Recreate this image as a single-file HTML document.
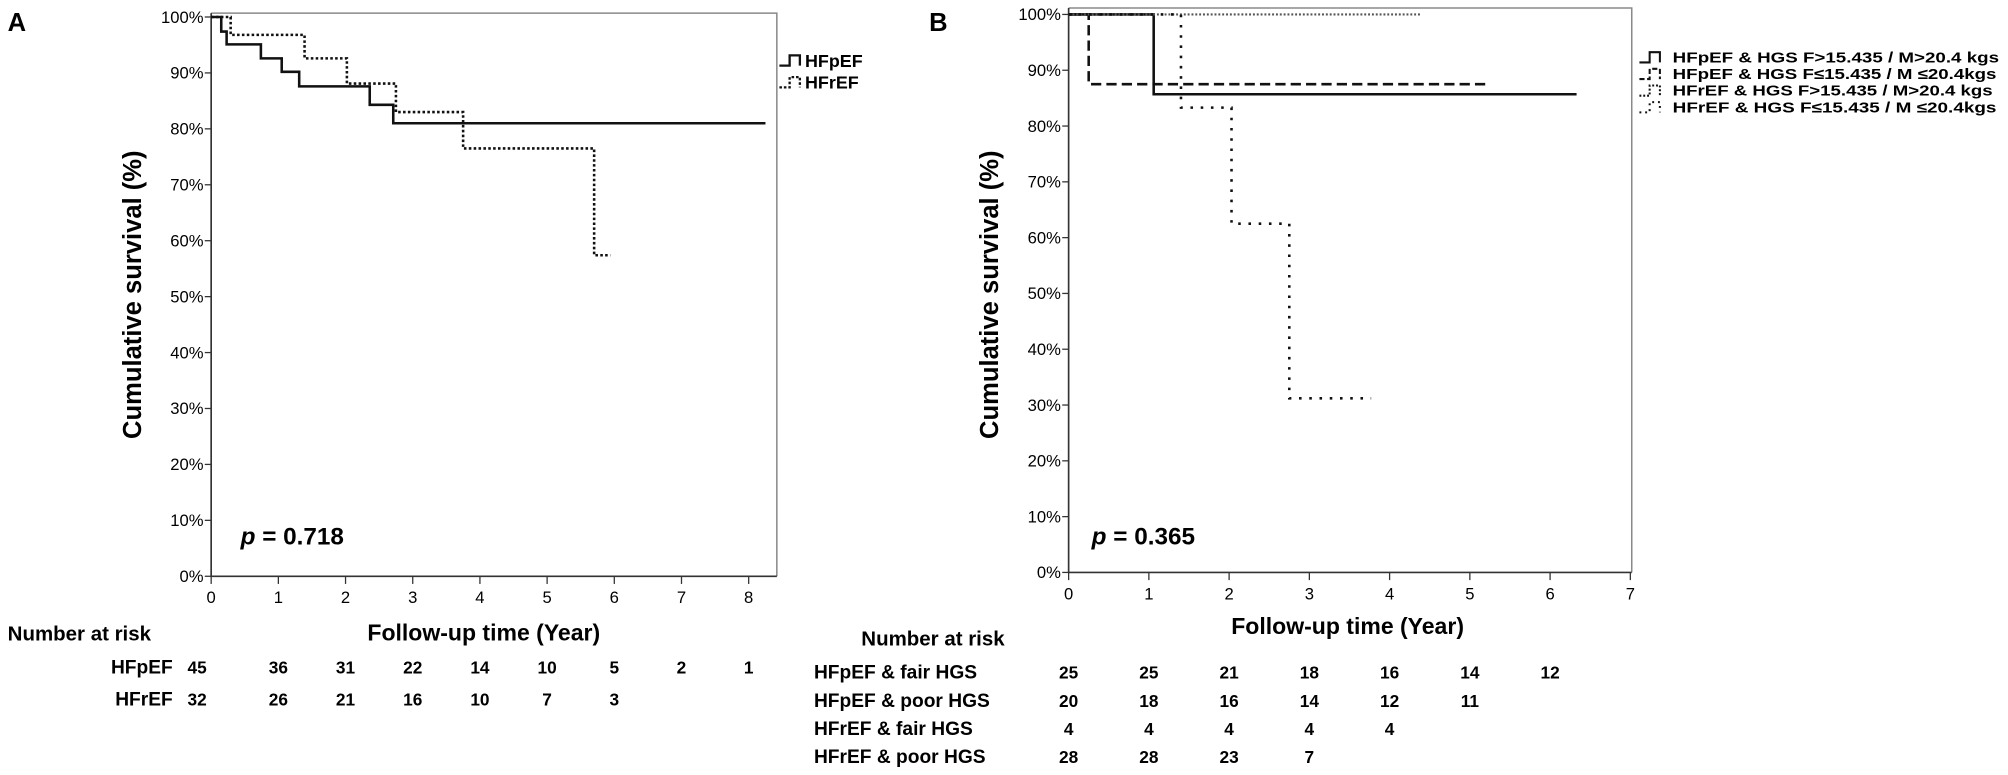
<!DOCTYPE html>
<html><head><meta charset="utf-8"><style>
html,body{margin:0;padding:0;background:#fff;}
svg{display:block;font-family:"Liberation Sans",Arial,sans-serif;}
</style></head><body>
<svg id="fig" width="2008" height="775" viewBox="0 0 1569 605" xmlns="http://www.w3.org/2000/svg">
<g id="pa"></g>
<g id="pb"></g>
</svg>
<script>
// ---- Panel A data ----
const aYTicks = [0,10,20,30,40,50,60,70,80,90,100];
const aXTicks = [0,1,2,3,4,5,6,7,8];
const aPefTimes = [0.15,0.23,0.74,1.05,1.31,2.36,2.71];
const aPefSurv  = [97.4,95.1,92.6,90.2,87.6,84.3,81.0];
const aPefEnd = 8.25;
const aRefTimes = [0.29,1.39,2.02,2.75,3.75,5.70];
const aRefSurv  = [96.8,92.6,88.1,83.0,76.5,57.4];
const aRefEnd = 5.94;
const aRiskPef = [45,36,31,22,14,10,5,2,1];
const aRiskRef = [32,26,21,16,10,7,3];
// ---- Panel B data ----
const bYTicks = [0,10,20,30,40,50,60,70,80,90,100];
const bXTicks = [0,1,2,3,4,5,6,7];
const bPefFairTimes = [1.06];
const bPefFairSurv  = [85.7];
const bPefFairEnd = 6.33;
const bPefPoorTimes = [0.25];
const bPefPoorSurv  = [87.5];
const bPefPoorEnd = 5.2;
const bRefFairTimes = [];
const bRefFairSurv  = [];
const bRefFairEnd = 4.4;
const bRefPoorTimes = [1.40,2.03,2.75];
const bRefPoorSurv  = [83.3,62.5,31.2];
const bRefPoorEnd = 3.77;
const bRiskPefFair = [25,25,21,18,16,14,12];
const bRiskPefPoor = [20,18,16,14,12,11];
const bRiskRefFair = [4,4,4,4,4];
const bRiskRefPoor = [28,28,23,7];

const NS="http://www.w3.org/2000/svg";
function mk(parent,tag,attrs,text){const e=document.createElementNS(NS,tag);for(const k in attrs)e.setAttribute(k,attrs[k]);if(text!==undefined)e.textContent=text;parent.appendChild(e);return e;}
function stepPath(times,surv,end,xs,ys){let d=`M${xs(0)},${ys(100)}`;for(let i=0;i<times.length;i++){d+=` H${xs(times[i])} V${ys(surv[i])}`;}d+=` H${xs(end)}`;return d;}

function panel(g,cfg){
  const xs=t=>cfg.x0+t*cfg.px;
  const ys=v=>cfg.y0-v*cfg.py;
  const f1=mk(g,'path',{d:`M${cfg.x0},${cfg.top} H${cfg.right} V${cfg.y0}`,fill:'none',stroke:'#8a8a8a','stroke-width':1.2});
  
  
  const ax=mk(g,'path',{d:`M${cfg.x0},${cfg.top} V${cfg.y0} H${cfg.right}`,fill:'none',stroke:'#333','stroke-width':1.3});
  
  
  cfg.yTicks.forEach(v=>{
    const tk=mk(g,'line',{x1:cfg.x0-5,x2:cfg.x0,y1:ys(v),y2:ys(v),stroke:'#333','stroke-width':1});
    
    
    const tl=mk(g,'text',{x:cfg.x0-6,y:ys(v)+4.5,'text-anchor':'end','font-size':13},v+'%');
    
    
  });
  cfg.xTicks.forEach(v=>{
    const tk=mk(g,'line',{x1:xs(v),x2:xs(v),y1:cfg.y0,y2:cfg.y0+6,stroke:'#333','stroke-width':1});
    
    
    const tl=mk(g,'text',{x:xs(v),y:cfg.y0+21,'text-anchor':'middle','font-size':13},v);
    
    
  });
  cfg.series.forEach(s=>{
    const p=mk(g,'path',{d:stepPath(s.t,s.s,s.end,xs,ys),fill:'none',stroke:s.color||'#111','stroke-width':s.w||2,'stroke-dasharray':s.dash||'none'});
    
    
  });
  return {xs,ys};
}

// Panel A
const ga=document.getElementById('pa');
const A=panel(ga,{x0:165,y0:450,top:10,right:607,px:52.5,py:4.37,yTicks:aYTicks,xTicks:aXTicks,
 series:[{name:'hfpef-curve',t:aPefTimes,s:aPefSurv,end:aPefEnd,w:2},
         {name:'hfref-curve',t:aRefTimes,s:aRefSurv,end:aRefEnd,w:2,dash:'2 1.8'}]});
// Panel B
const gb=document.getElementById('pb');
const B=panel(gb,{x0:835,y0:447,top:6,right:1275,px:62.7,py:4.36,yTicks:bYTicks,xTicks:bXTicks,
 series:[{name:'hfpef-fair-hgs-curve',t:bPefFairTimes,s:bPefFairSurv,end:bPefFairEnd,w:2},
         {name:'hfpef-poor-hgs-curve',t:bPefPoorTimes,s:bPefPoorSurv,end:bPefPoorEnd,w:2,dash:'8 4'},
         {name:'hfref-fair-hgs-curve',t:bRefFairTimes,s:bRefFairSurv,end:bRefFairEnd,w:1.6,dash:'1.5 1.5',color:'#555'},
         {name:'hfref-poor-hgs-curve',t:bRefPoorTimes,s:bRefPoorSurv,end:bRefPoorEnd,w:2,dash:'2 6'}]});

function txt(g,name,x,y,str,attrs){const e=mk(g,'text',Object.assign({x:x,y:y},attrs||{}),str);return e;}
const fig=document.getElementById('fig');
txt(fig,'panel-a-label',6,24,'A',{'font-size':20,'font-weight':'bold'});
txt(fig,'panel-b-label',726,24,'B',{'font-size':20,'font-weight':'bold'});
txt(ga,'y-axis-title',110,230,'Cumulative survival (%)',{'font-size':20,'font-weight':'bold','text-anchor':'middle',transform:'rotate(-90 110 230)'});
txt(gb,'y-axis-title',780,230,'Cumulative survival (%)',{'font-size':20,'font-weight':'bold','text-anchor':'middle',transform:'rotate(-90 780 230)'});
txt(ga,'x-axis-title',378,500,'Follow-up time (Year)',{'font-size':18,'font-weight':'bold','text-anchor':'middle'});
txt(gb,'x-axis-title',1053,495,'Follow-up time (Year)',{'font-size':18,'font-weight':'bold','text-anchor':'middle'});
const pa=txt(ga,'p-value',188,425,'',{'font-size':19,'font-weight':'bold'});
pa.innerHTML='<tspan font-style="italic">p</tspan> = 0.718';
const pb=txt(gb,'p-value',853,425,'',{'font-size':19,'font-weight':'bold'});
pb.innerHTML='<tspan font-style="italic">p</tspan> = 0.365';

// Legend symbols: low line, step up, across, down
function legSym(g,x,y,dash,w,wd){const s=wd/3;const p=mk(g,'path',{d:`M${x},${y+4} H${x+s} V${y-4} H${x+2*s} V${y+4}`,fill:'none',stroke:'#111','stroke-width':w||1.8,'stroke-dasharray':dash||'none'});}
// Legend A
legSym(ga,609,47,'none',1.8,24);
txt(ga,'legend-entry-hfpef',629,52,'HFpEF',{'font-size':14,'font-weight':'bold'});
legSym(ga,609,64,'2 1.5',1.8,24);
txt(ga,'legend-entry-hfref',629,69,'HFrEF',{'font-size':14,'font-weight':'bold'});
// Legend B
const bLeg=['HFpEF & HGS F>15.435 / M>20.4 kgs','HFpEF & HGS F\u226415.435 / M \u226420.4kgs','HFrEF & HGS F>15.435 / M>20.4 kgs','HFrEF & HGS F\u226415.435 / M \u226420.4kgs'];
const bDash=['none','4 2','1.5 1.5','1.5 3'];
const bLegW=[255,253,250,253];
bLeg.forEach((l,i)=>{const y=44.5+i*13;legSym(gb,1281,y,bDash[i],1.6,24);
 txt(gb,'legend-entry',1307,y+4,l,{'font-size':11.5,'font-weight':'bold',textLength:bLegW[i],lengthAdjust:'spacingAndGlyphs'});});

// Number at risk A
txt(ga,'risk-table-title',6,500,'Number at risk',{'font-size':16,'font-weight':'bold'});
txt(ga,'risk-label-hfpef',135,526,'HFpEF',{'font-size':15,'font-weight':'bold','text-anchor':'end'});
txt(ga,'risk-label-hfref',135,551,'HFrEF',{'font-size':15,'font-weight':'bold','text-anchor':'end'});
function riskRow(g,arr,xs,y,first){arr.forEach((v,i)=>{const x=i===0&&first!==undefined?first:xs(i);txt(g,'risk-count',x,y,v,{'font-size':13.5,'font-weight':'bold','text-anchor':'middle'});});}
riskRow(ga,aRiskPef,A.xs,526,154);
riskRow(ga,aRiskRef,A.xs,551,154);
// Number at risk B
txt(gb,'risk-table-title',673,504,'Number at risk',{'font-size':16,'font-weight':'bold'});
const bLabels=['HFpEF & fair HGS','HFpEF & poor HGS','HFrEF & fair HGS','HFrEF & poor HGS'];
const bRows=[bRiskPefFair,bRiskPefPoor,bRiskRefFair,bRiskRefPoor];
const bRowY=[530,552,574,596];
bLabels.forEach((l,i)=>{txt(gb,'risk-label',636,bRowY[i],l,{'font-size':15,'font-weight':'bold'});riskRow(gb,bRows[i],B.xs,bRowY[i]);});
</script>
</body></html>
